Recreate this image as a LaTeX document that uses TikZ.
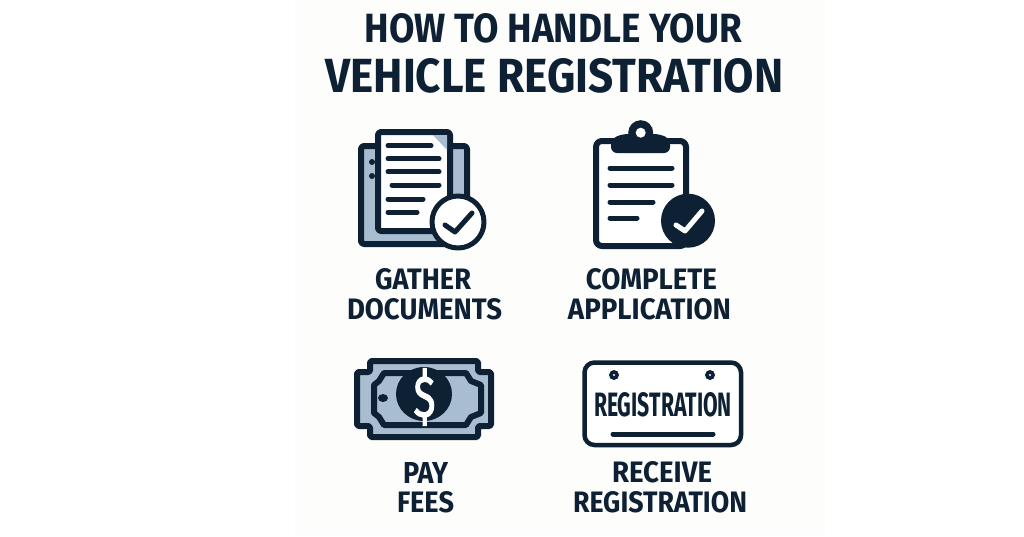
\documentclass[tikz,border=0pt]{standalone}
\usepackage{fontspec}
\usepackage{graphicx}
\setmainfont{Fira Sans}
\newfontfamily\dollarfont[FakeBold=2]{Fira Sans}
\definecolor{navy}{HTML}{0E2033}
\definecolor{steel}{HTML}{A9BDD1}
\definecolor{panel}{HTML}{FDFDFB}
\newcommand{\fitted}[3]{\resizebox{#1pt}{#2pt}{\bfseries #3}}
\tikzset{
  lbl/.style={inner sep=0pt,outer sep=0pt,text=navy},
  ink/.style={draw=navy,line width=#1,line join=round},
  ink/.default=6pt,
  rule/.style={draw=navy,line width=5pt,line cap=round},
  tick/.style={line width=5pt,line cap=round,line join=round},
}
\begin{document}
\begin{tikzpicture}[x=1pt,y=-1pt]
\useasboundingbox (0,0) rectangle (1024,536);
\fill[white] (0,0) rectangle (1024,536);
\fill[panel] (295,0) rectangle (825,536);
% title
\node[lbl] (t1) at (553.5,28) {\fitted{377}{29}{HOW TO HANDLE YOUR}};
\node[lbl] (t2) at (554.5,76) {\fitted{458}{34}{VEHICLE REGISTRATION}};
% document icon
\draw[ink,fill=steel,rounded corners=3pt] (361,146) rectangle (467,244);
\fill[navy] (372,162) circle (3pt) (372,176) circle (3pt);
\draw[ink,fill=white,rounded corners=3pt] (378,132) rectangle (450,231);
\fill[steel] (433,135) -- (447,135) -- (447,150) -- cycle;
\draw[rule] (388,145.7) -- (431,145.7);
\draw[rule] (388,158.7) -- (439,158.7);
\draw[rule] (388,171.7) -- (439,171.7);
\draw[rule] (392,185) -- (439,185);
\draw[rule] (388,199) -- (423,199);
\draw[rule] (388,212.3) -- (417,212.3);
\draw[ink=5pt,fill=white] (458,222) circle (26pt);
\draw[tick,draw=navy] (445,225) -- (455,232) -- (472,213);
% clipboard icon
\draw[ink,fill=white,rounded corners=6pt] (596,141) rectangle (686,246);
\fill[navy] (640.7,132.7) circle (12.5pt);
\fill[navy,rounded corners=6pt] (611,153) -- (611,139) -- (622,134) -- (660,134) -- (670,139) -- (670,153) -- cycle;
\fill[white] (640.7,132.7) circle (5pt);
\draw[rule] (610,168) -- (672,168);
\draw[rule] (610,185) -- (672,185);
\draw[rule] (610,202) -- (653,202);
\draw[rule] (610,218) -- (637,218);
\fill[navy] (688,220.7) circle (27pt);
\draw[tick,draw=white] (676,225) -- (685,231) -- (702,211);
% money icon
\draw[ink,fill=steel,rounded corners=1.5pt] (370,361) -- (478,361) -- (478,372) -- (491,372) -- (491,426) -- (478,426) -- (478,437) -- (370,437) -- (370,426) -- (357,426) -- (357,372) -- (370,372) -- cycle;
\draw[ink=6pt] (384,373) -- (466,373) -- (471,381) -- (481,385) -- (481,413) -- (471,417) -- (466,425) -- (384,425) -- (379,417) -- (374,413) -- (374,385) -- (379,381) -- cycle;
\fill[navy] (424,394) ellipse (28pt and 27pt);
\fill[navy] (383,398) ellipse (5pt and 4pt);
\node[lbl,text=white] (dollar) at (424.5,397) {\resizebox{22pt}{48pt}{\dollarfont\$}};
% plate icon
\draw[draw=navy,line width=4.5pt,fill=white,rounded corners=10pt] (584.5,362.5) rectangle (741,445);
\fill[navy] (614,375) circle (5pt) (710,375) circle (5pt);
\fill[white] (614,375) circle (1.2pt) (710,375) circle (1.2pt);
\node[lbl] (plate) at (663,405) {\fitted{138}{24}{REGISTRATION}};
\draw[rule] (613,434) -- (713,434);
% captions
\node[lbl] (c1a) at (423,279) {\fitted{96}{21}{GATHER}};
\node[lbl] (c1b) at (424.5,309.5) {\fitted{155}{21}{DOCUMENTS}};
\node[lbl] (c2a) at (651.5,279) {\fitted{131}{21}{COMPLETE}};
\node[lbl] (c2b) at (649.5,309.5) {\fitted{163}{21}{APPLICATION}};
\node[lbl] (c3a) at (425.5,472.5) {\fitted{45}{21}{PAY}};
\node[lbl] (c3b) at (425.5,502.5) {\fitted{57}{21}{FEES}};
\node[lbl] (c4a) at (662,472.5) {\fitted{100}{21}{RECEIVE}};
\node[lbl] (c4b) at (660,502.5) {\fitted{174}{21}{REGISTRATION}};
\end{tikzpicture}
\end{document}
